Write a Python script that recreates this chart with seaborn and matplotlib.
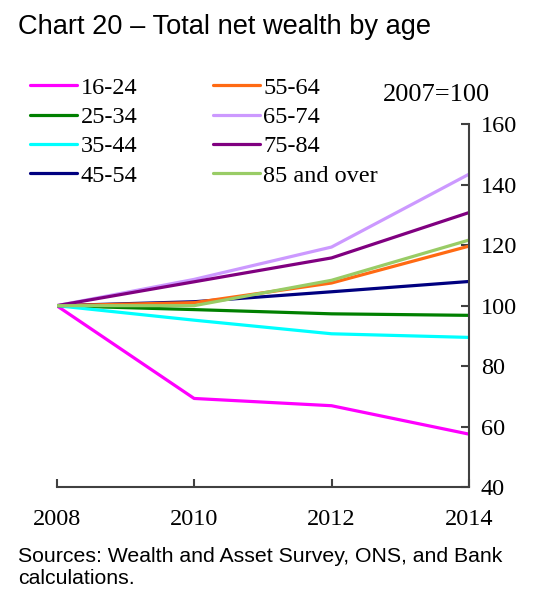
import matplotlib
matplotlib.use("Agg")
import matplotlib.pyplot as plt
import seaborn as sns
import pandas as pd

years = [2008, 2010, 2012, 2014]
groups = ["16-24", "25-34", "35-44", "45-54", "55-64", "65-74", "75-84", "85 and over"]
v_16_24 = [100, 69.3, 66.9, 57.5]
v_25_34 = [100, 98.7, 97.3, 96.8]
v_35_44 = [100, 95.2, 90.7, 89.5]
v_45_54 = [100, 101.3, 104.6, 108.0]
v_55_64 = [100, 101.0, 107.5, 119.7]
v_65_74 = [100, 108.7, 119.4, 143.5]
v_75_84 = [100, 107.9, 115.8, 130.8]
v_85_over = [100, 100.0, 108.4, 121.7]
series = [v_16_24, v_25_34, v_35_44, v_45_54, v_55_64, v_65_74, v_75_84, v_85_over]
colors = ["#FF00FF", "#008000", "#00FFFF", "#000080", "#FF6A13", "#CC99FF", "#800080", "#99CC66"]
yticks = [40, 60, 80, 100, 120, 140, 160]
xticks = [2008, 2010, 2012, 2014]

rows = []
for g, vals in zip(groups, series):
    for y, v in zip(years, vals):
        rows.append({"year": y, "value": v, "group": g})
df = pd.DataFrame(rows)

sns.set_theme(style="white")
plt.rcParams["text.color"] = "black"
serif = ["Liberation Serif", "DejaVu Serif"]
sans = ["Liberation Sans", "DejaVu Sans"]
FS = 17.5

fig = plt.figure(figsize=(5.35, 6.0), dpi=100)
ax = fig.add_axes([0.106, 0.1883, 0.8766 - 0.106, 0.7928 - 0.1883])

sns.lineplot(data=df, x="year", y="value", hue="group", hue_order=groups,
             palette=colors, linewidth=2.3, ax=ax, legend=False, sort=False)

ax.set_xlim(2008, 2014)
ax.set_ylim(40, 160)
ax.set_xticks(xticks)
ax.set_yticks(yticks)
ax.set_xticklabels([str(x) for x in xticks], family=serif, fontsize=FS)
ax.set_yticklabels([str(y) for y in yticks], family=serif, fontsize=FS)
ax.yaxis.tick_right()
ax.set_xlabel("")
ax.set_ylabel("")
for s in ["top", "left"]:
    ax.spines[s].set_visible(False)
for s in ["bottom", "right"]:
    ax.spines[s].set_color("#404040")
    ax.spines[s].set_linewidth(1.5)
ax.tick_params(axis="y", direction="in", length=6, width=1.5, color="#404040",
               right=True, left=False, pad=8.5, labelcolor="black")
ax.tick_params(axis="x", direction="in", length=6, width=1.5, color="#404040",
               bottom=True, pad=15.5, labelcolor="black")
ax.grid(False)
ax.set_facecolor("white")

handles = [plt.Line2D([0], [0], color=c, linewidth=2.3) for c in colors]
fig.legend(handles, groups, ncol=2,
           loc="upper left", bbox_to_anchor=(0.056, 0.872), frameon=False,
           prop={"family": serif, "size": FS}, handlelength=1.93, handletextpad=0.15,
           columnspacing=3.1, labelspacing=0.3, borderpad=0, borderaxespad=0)

fig.text(0.916, 0.842, "2007=100", ha="right", va="center", family=serif, fontsize=19)
fig.text(0.034, 0.943, "Chart 20 \u2013 Total net wealth by age", ha="left", va="baseline",
         family=sans, fontsize=19.6)
fig.text(0.034, 0.054, "Sources: Wealth and Asset Survey, ONS, and Bank\ncalculations.",
         ha="left", va="center", family=sans, fontsize=15.3, linespacing=1.2)

fig.savefig("out.png", dpi=100, facecolor="white")
